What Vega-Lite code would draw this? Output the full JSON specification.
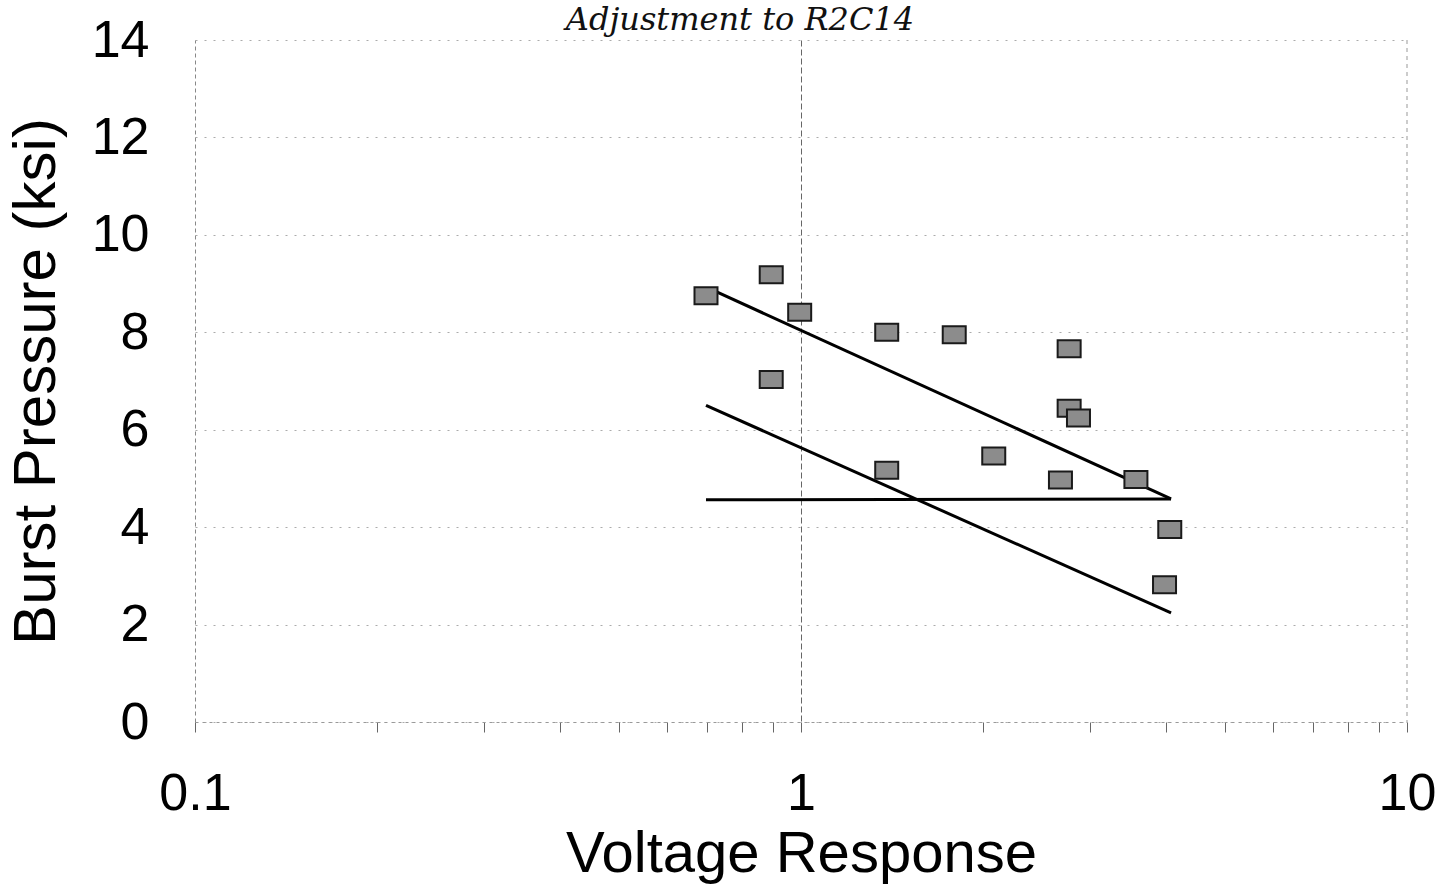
{
  "$schema": "https://vega.github.io/schema/vega-lite/v6.json",
  "width": 1212,
  "height": 682,
  "autosize": {"type": "none"},
  "padding": {"left": 195, "top": 40, "right": 35, "bottom": 167},
  "background": "white",
  "config": {
    "view": {"stroke": null},
    "font": "Liberation Sans"
  },
  "datasets": {
    "points": [
      {"v": 0.697, "p": 8.75},
      {"v": 0.893, "p": 9.18},
      {"v": 0.995, "p": 8.41},
      {"v": 1.385, "p": 8.0},
      {"v": 1.79, "p": 7.95},
      {"v": 2.77, "p": 7.66},
      {"v": 0.893, "p": 7.03},
      {"v": 2.77, "p": 6.44},
      {"v": 2.87, "p": 6.24},
      {"v": 1.385, "p": 5.17},
      {"v": 2.08, "p": 5.46},
      {"v": 2.68, "p": 4.97},
      {"v": 3.57, "p": 4.98},
      {"v": 4.06, "p": 3.95},
      {"v": 3.98, "p": 2.82}
    ],
    "lines": [
      {"series": "upper", "v": 0.705, "p": 8.9},
      {"series": "upper", "v": 4.08, "p": 4.58},
      {"series": "lower", "v": 0.697, "p": 6.5},
      {"series": "lower", "v": 4.08, "p": 2.24},
      {"series": "flat", "v": 0.697, "p": 4.56},
      {"series": "flat", "v": 4.08, "p": 4.58}
    ],
    "note": [
      {"v": 0.793, "p": 14.2, "text": "Adjustment to R2C14"}
    ]
  },
  "layer": [
    {
      "data": {"name": "lines"},
      "mark": {"type": "line", "color": "#000", "strokeWidth": 3},
      "encoding": {
        "x": {
          "field": "v",
          "type": "quantitative",
          "scale": {"type": "log", "domain": [0.1, 10]},
          "axis": {
            "title": "Voltage Response",
            "titleFontSize": 58,
            "titleFontWeight": "normal",
            "titleColor": "#000",
            "titlePadding": 6,
            "values": [0.1, 0.2, 0.3, 0.4, 0.5, 0.6, 0.7, 0.8, 0.9, 1, 2, 3, 4, 5, 6, 7, 8, 9, 10],
            "labelExpr": "(datum.value == 0.1 || datum.value == 1 || datum.value == 10) ? datum.label : ''",
            "labelFontSize": 52,
            "labelColor": "#000",
            "labelPadding": 36,
            "labelFlush": false,
            "labelOverlap": false,
            "tickSize": 10,
            "tickColor": "#666",
            "tickWidth": 1,
            "domainColor": "#999",
            "domainDash": [3, 4],
            "domainWidth": 1,
            "grid": true,
            "gridColor": "#555",
            "gridDash": [6, 3],
            "gridWidth": 1,
            "gridOpacity": {"condition": {"test": "datum.value == 1", "value": 0.9}, "value": 0}
          }
        },
        "y": {
          "field": "p",
          "type": "quantitative",
          "scale": {"domain": [0, 14]},
          "axis": {
            "title": "Burst Pressure (ksi)",
            "titleFontSize": 60,
            "titleFontWeight": "normal",
            "titleColor": "#000",
            "titlePadding": 24,
            "values": [0, 2, 4, 6, 8, 10, 12, 14],
            "labelFontSize": 52,
            "labelColor": "#000",
            "labelPadding": 46,
            "labelFlush": false,
            "ticks": false,
            "domainColor": "#888",
            "domainDash": [4, 3],
            "domainWidth": 1,
            "grid": true,
            "gridColor": "#888",
            "gridDash": [2, 7],
            "gridWidth": 1,
            "gridOpacity": 0.7
          }
        },
        "detail": {"field": "series", "type": "nominal"}
      }
    },
    {
      "data": {"values": [{"v": 10}]},
      "mark": {"type": "rule", "color": "#999", "strokeDash": [4, 4], "strokeWidth": 1},
      "encoding": {"x": {"field": "v", "type": "quantitative"}}
    },
    {
      "data": {"name": "points"},
      "mark": {
        "type": "point",
        "shape": "M-1.15,-0.85H1.15V0.85H-1.15Z",
        "size": 400,
        "filled": true,
        "fill": "#8c8c8c",
        "stroke": "#1a1a1a",
        "strokeWidth": 2,
        "opacity": 1
      },
      "encoding": {
        "x": {"field": "v", "type": "quantitative"},
        "y": {"field": "p", "type": "quantitative"}
      }
    },
    {
      "data": {"name": "note"},
      "mark": {
        "type": "text",
        "font": "DejaVu Serif",
        "fontStyle": "italic",
        "fontSize": 32,
        "color": "#111",
        "align": "center",
        "baseline": "alphabetic",
        "clip": false
      },
      "encoding": {
        "x": {"field": "v", "type": "quantitative"},
        "y": {"field": "p", "type": "quantitative"},
        "text": {"field": "text"}
      }
    }
  ]
}
